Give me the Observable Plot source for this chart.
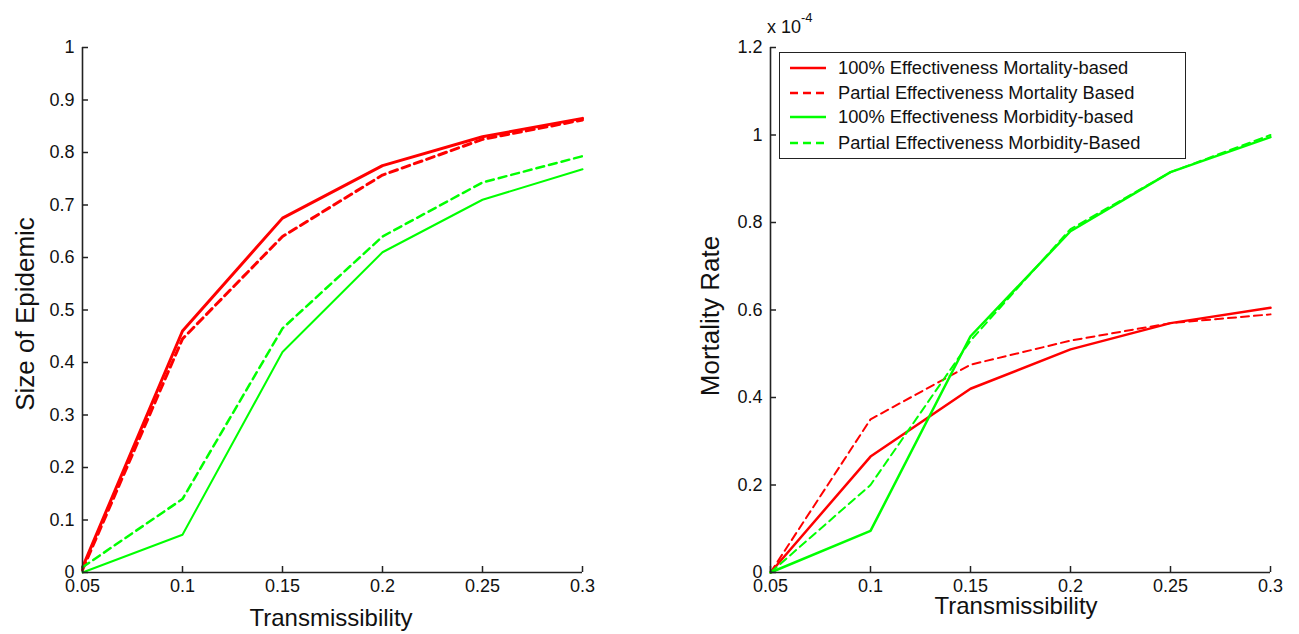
<!DOCTYPE html>
<html>
<head>
<meta charset="utf-8">
<script src="https://cdn.jsdelivr.net/npm/d3@7"></script>
<script src="https://cdn.jsdelivr.net/npm/@observablehq/plot@0.6"></script>
<style>
  body { margin: 0; background: #fff; font-family: "Liberation Sans", Arial, sans-serif; color: #111; }
  #wrap { position: relative; width: 1299px; height: 634px; overflow: hidden; }
  .panel { position: absolute; top: 0; }
  .lbl { position: absolute; font-size: 24px; white-space: nowrap; color: #111; }
  .ylbl { font-size: 26px; transform: translate(-50%, -50%) rotate(-90deg); }
  .xlbl { transform: translateX(-50%); }
  #legend { position: absolute; left: 779px; top: 52px; width: 405px; height: 105px; border: 1.5px solid #222; background: #fff; font-size: 18.3px; }
  #legend .row { position: absolute; left: 0; height: 24px; display: flex; align-items: center; }
  #legend svg { margin-left: 10px; margin-right: 12px; }
  #exp { position: absolute; left: 767px; top: 14px; font-size: 18px; }
  #exp sup { font-size: 13px; position: relative; top: -4px; }
</style>
</head>
<body>
<div id="wrap">
  <div id="left" class="panel" style="left:0"></div>
  <div id="right" class="panel" style="left:640px"></div>
  <div class="lbl ylbl" style="left:25px; top:314px;">Size of Epidemic</div>
  <div class="lbl xlbl" style="left:331px; top:604px;">Transmissibility</div>
  <div class="lbl ylbl" style="left:710px; top:316px;">Mortality Rate</div>
  <div class="lbl xlbl" style="left:1016px; top:592px;">Transmissibility</div>
  <div id="exp">x 10<sup>-4</sup></div>
  <div id="legend"></div>
</div>
<script>
// Shared x values (transmissibility)
const transmissibility = [0.05, 0.1, 0.15, 0.2, 0.25, 0.3];
const xTicks = [0.05, 0.1, 0.15, 0.2, 0.25, 0.3];

// Left panel: size of epidemic
const sizeMortality100 = [0.01, 0.46, 0.675, 0.775, 0.83, 0.865];
const sizeMortalityPartial = [0.005, 0.445, 0.64, 0.757, 0.825, 0.862];
const sizeMorbidity100 = [0.0, 0.072, 0.42, 0.61, 0.71, 0.768];
const sizeMorbidityPartial = [0.01, 0.14, 0.465, 0.64, 0.743, 0.793];
const sizeTicks = [0, 0.1, 0.2, 0.3, 0.4, 0.5, 0.6, 0.7, 0.8, 0.9, 1];

// Right panel: mortality rate, in units of 1e-4
const mortMortality100 = [0.0, 0.265, 0.42, 0.51, 0.57, 0.605];
const mortMortalityPartial = [0.0, 0.35, 0.475, 0.53, 0.57, 0.59];
const mortMorbidity100 = [0.0, 0.095, 0.54, 0.78, 0.915, 0.995];
const mortMorbidityPartial = [0.0, 0.2, 0.53, 0.785, 0.915, 1.0];
const mortTicks = [0, 0.2, 0.4, 0.6, 0.8, 1, 1.2];

const seriesNames = [
  "100% Effectiveness Mortality-based",
  "Partial Effectiveness Mortality Based",
  "100% Effectiveness Morbidity-based",
  "Partial Effectiveness Morbidity-Based"
];
const seriesColors = ["#ff0000", "#ff0000", "#00ff00", "#00ff00"];
const seriesDash = [null, "8,5", null, "8,5"];

function toRows(arr) { return transmissibility.map((x, i) => ({x, y: arr[i]})); }

function panel({width, marginLeft, marginRight, yDomain, yTicks, series, widths}) {
  const height = 634, marginTop = 47, marginBottom = 62;
  const innerW = width - marginLeft - marginRight;
  const innerH = height - marginTop - marginBottom;
  const axisColor = "#222";
  return Plot.plot({
    width, height, marginLeft, marginRight, marginTop, marginBottom,
    x: {domain: [0.05, 0.3]},
    y: {domain: yDomain},
    style: {fontFamily: "'Liberation Sans', Arial, sans-serif", fontSize: "18px", color: "#111", background: "transparent", overflow: "visible"},
    marks: [
      Plot.axisX({ticks: xTicks, tickSize: 0, tickPadding: 7, label: null, tickFormat: d => String(d)}),
      Plot.axisY({ticks: yTicks, tickSize: 0, tickPadding: 8, label: null, tickFormat: d => String(d)}),
      ...series.map((arr, i) => Plot.line(toRows(arr), {
        x: "x", y: "y", stroke: seriesColors[i], strokeWidth: widths[i],
        strokeDasharray: seriesDash[i], strokeLinejoin: "round"
      })),
      Plot.ruleY([yDomain[0]], {stroke: axisColor, strokeWidth: 1.6}),
      Plot.ruleX([0.05], {stroke: axisColor, strokeWidth: 1.6}),
      Plot.tickX(xTicks, {x: d => d, stroke: axisColor, strokeWidth: 1.5, insetTop: innerH - 6}),
      Plot.tickY(yTicks, {y: d => d, stroke: axisColor, strokeWidth: 1.5, insetRight: innerW - 6})
    ]
  });
}

document.getElementById("left").append(panel({
  width: 640, marginLeft: 82, marginRight: 58,
  yDomain: [0, 1], yTicks: sizeTicks,
  series: [sizeMortality100, sizeMortalityPartial, sizeMorbidity100, sizeMorbidityPartial],
  widths: [3, 3, 2, 2.5]
}));

document.getElementById("right").append(panel({
  width: 659, marginLeft: 130, marginRight: 29,
  yDomain: [0, 1.2], yTicks: mortTicks,
  series: [mortMortality100, mortMortalityPartial, mortMorbidity100, mortMorbidityPartial],
  widths: [2.5, 2, 2.5, 2]
}));

// Legend
const legend = document.getElementById("legend");
const rowTops = [3, 28, 52, 78];
seriesNames.forEach((name, i) => {
  const row = document.createElement("div");
  row.className = "row";
  row.style.top = rowTops[i] + "px";
  row.innerHTML = `<svg width="36" height="6"><line x1="0" x2="36" y1="3" y2="3" stroke="${seriesColors[i]}" stroke-width="2.5" ${seriesDash[i] ? 'stroke-dasharray="8,5"' : ''}/></svg><span>${name}</span>`;
  legend.append(row);
});
</script>
</body>
</html>
